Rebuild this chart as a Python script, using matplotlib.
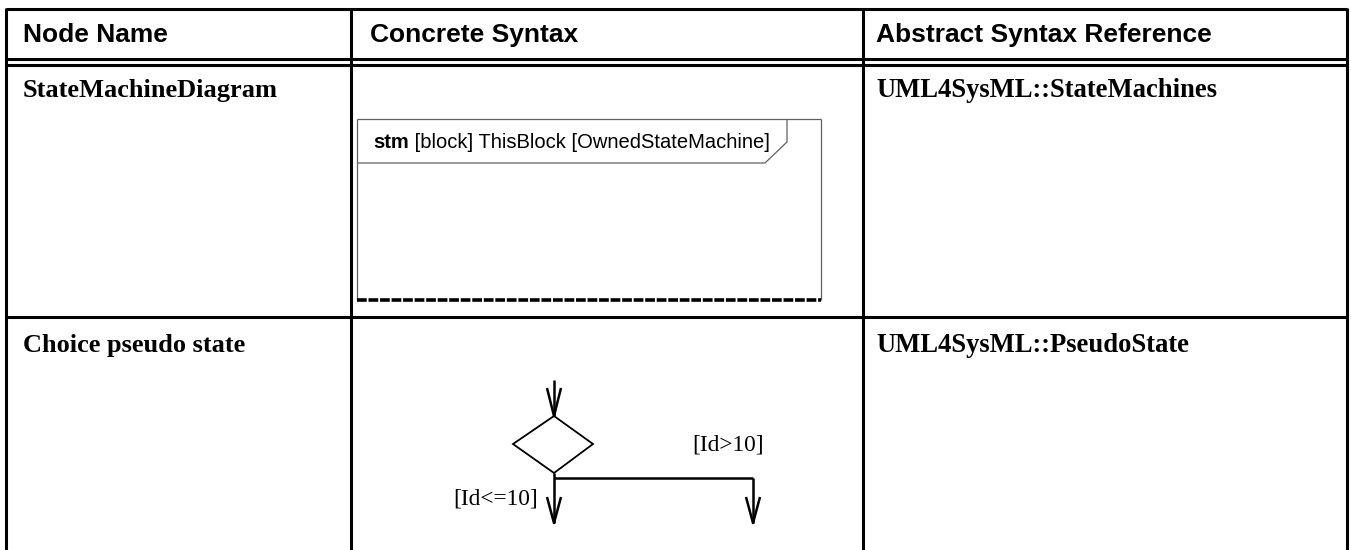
import matplotlib
matplotlib.use("Agg")
import matplotlib.pyplot as plt
from matplotlib.lines import Line2D
from matplotlib.patches import Polygon

plt.rcParams['lines.scale_dashes'] = False

# ---- table content ----
headers = ["Node Name", "Concrete Syntax", "Abstract Syntax Reference"]
node_names = ["StateMachineDiagram", "Choice pseudo state"]
abstract_refs = ["UML4SysML::StateMachines", "UML4SysML::PseudoState"]
frame_kind = "stm"
frame_rest = " [block] ThisBlock [OwnedStateMachine]"
guards = ["[Id>10]", "[Id<=10]"]

W, H = 1351, 550
fig = plt.figure(figsize=(W / 100, H / 100), dpi=100)
ax = fig.add_axes([0, 0, 1, 1])
ax.set_xlim(0, W)
ax.set_ylim(H, 0)
ax.axis('off')

lw_tab = 2.2
def line(xs, ys, lw=lw_tab, color='black', **kw):
    ax.add_line(Line2D(xs, ys, lw=lw, color=color, solid_capstyle='butt', **kw))

# table grid
x_left, x_c1, x_c2, x_right = 6, 351, 863, 1347
y_top, y_h1, y_h2, y_row = 9, 59, 65, 317
line([x_left, x_right], [y_top, y_top])
line([x_left, x_right], [y_h1, y_h1])
line([x_left, x_right], [y_h2, y_h2])
line([x_left, x_right], [y_row, y_row])
for x in (x_left, x_c1, x_c2, x_right):
    line([x, x], [y_top - 1, H])

# header text
col_x = [23, 370, 876]
for x, t in zip(col_x, headers):
    ax.text(x, 42, t, fontsize=19, fontweight='bold', family='Liberation Sans',
            va='baseline', ha='left')

row_base = [97, 352]
for i in range(2):
    ax.text(23, row_base[i], node_names[i], fontsize=19, fontweight='bold',
            family='Liberation Serif', va='baseline', ha='left')
    ax.text(876, row_base[i], abstract_refs[i], fontsize=19.2, fontweight='bold',
            family='Liberation Serif', va='baseline', ha='left')

# ---- state machine frame ----
fc = '#606060'
fl, fr, ft, fb = 357, 821, 119, 300
line([fl, fl], [ft, fb], lw=0.9, color=fc)
line([fr, fr], [ft, fb], lw=0.9, color=fc)
line([fl, fr], [ft, ft], lw=0.9, color=fc)
line([787, 787, 765, fl], [ft, 142, 163, 163], lw=0.9, color=fc)
ax.add_line(Line2D([fl, fr], [fb, fb], lw=2.6, color='black',
                   dashes=(7, 1.3), dash_capstyle='butt'))
t1 = ax.text(373, 148, frame_kind, fontsize=14.5, fontweight='bold',
             family='Liberation Sans', va='baseline', ha='left')
ax.annotate(frame_rest, xycoords=t1, xy=(1, 0), va='bottom', ha='left',
            fontsize=14.5, family='Liberation Sans')

# ---- choice pseudo state ----
lwc = 1.8
cx = 554
line([cx, cx], [380, 416], lw=lwc)
line([547, cx, 561], [388, 416, 388], lw=lwc)
ax.add_patch(Polygon([[cx, 416], [593, 444], [cx, 473], [513, 444]], closed=True,
                     fill=False, lw=1.3, edgecolor='black'))
line([cx, cx], [473, 523], lw=lwc)
line([cx, 753], [478, 478], lw=lwc)
line([753, 753], [478, 523], lw=lwc)
for ax_x in (cx, 753):
    line([ax_x - 7, ax_x, ax_x + 7], [497, 523, 497], lw=lwc)
ax.text(692, 451, guards[0], fontsize=16.8, family='Liberation Serif',
        va='baseline', ha='left')
ax.text(538, 505, guards[1], fontsize=16.8, family='Liberation Serif',
        va='baseline', ha='right')

fig.savefig('out.png', dpi=100)
